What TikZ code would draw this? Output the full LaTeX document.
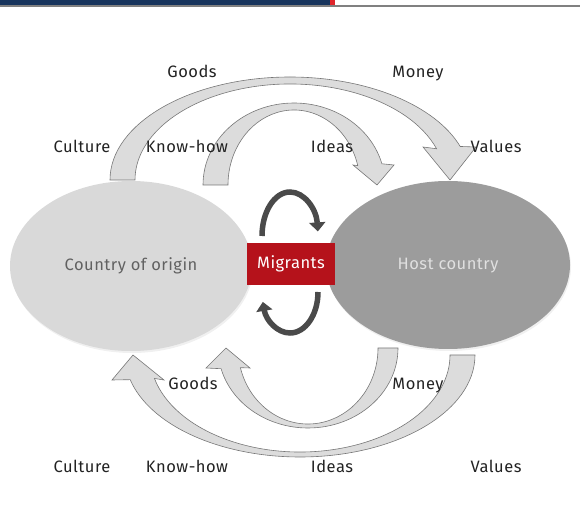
\documentclass[tikz,border=0pt]{standalone}
\usepackage{fontspec}
\setmainfont{Fira Sans}[LetterSpace=3]
\usepackage{tikz}
\usetikzlibrary{arrows.meta,shapes,shadows,calc}

\definecolor{navy}{HTML}{17345C}
\definecolor{barred}{HTML}{E0252B}
\definecolor{migred}{HTML}{B5121B}
\definecolor{origin}{HTML}{D9D9D9}
\definecolor{host}{HTML}{9C9C9C}
\definecolor{flowfill}{HTML}{DCDCDC}
\definecolor{flowline}{HTML}{777777}
\definecolor{swap}{HTML}{4A4A4A}
\definecolor{labeltext}{HTML}{222222}

\begin{document}
\begin{tikzpicture}[x=1pt,y=1pt,
    label node/.style={font=\fontsize{16.5}{19}\selectfont,text=labeltext,inner sep=0pt,
                       text height=12pt,text depth=3pt},
    country/.style={ellipse,inner sep=0pt,font=\fontsize{16.5}{19}\selectfont,
                    text height=12pt,text depth=3pt,
                    drop shadow={opacity=0.12,shadow xshift=1pt,shadow yshift=-2pt}},
    flow/.style={fill=flowfill,draw=flowline,line width=0.6pt,line join=miter},
    swap arrow/.style={draw=swap,line width=5.5pt,-{Triangle[length=9pt,width=16pt]}}]
  \useasboundingbox (0,0) rectangle (580,519);

  % header bar
  \fill[navy] (0,519) rectangle (330,514);
  \fill[barred] (330,519) rectangle (335,514);
  \fill[gray] (0,514) rectangle (580,512);

  % flows from origin to host (top)
  \draw[flow] (110,339) arc[start angle=180,end angle=19,x radius=180pt,y radius=103pt]
    -- (476,372) -- (450,339) -- (423,372)
    -- ({290+155*cos(19)},{339+96*sin(19)})
    arc[start angle=19,end angle=180,x radius=155pt,y radius=96pt] -- cycle;
  \draw[flow] (203,334) arc[start angle=180,end angle=15,x radius=91pt,y radius=82pt]
    -- (394,354) -- (377,334) -- (353,354)
    -- ({294+66*cos(15)},{334+75*sin(15)})
    arc[start angle=15,end angle=180,x radius=66pt,y radius=75pt] -- cycle;

  % flows from host back to origin (bottom)
  \draw[flow] (475,164) arc[start angle=0,end angle=-166,x radius=175pt,y radius=102pt]
    -- (112,139) -- (133,164) -- (164,139)
    -- ({300+150*cos(-166)},{164+97*sin(-166)})
    arc[start angle=-166,end angle=0,x radius=150pt,y radius=97pt] -- cycle;
  \draw[flow] (398,171) arc[start angle=0,end angle=-165,x radius=90pt,y radius=80pt]
    -- (206,151) -- (226,171) -- (250,151)
    -- ({308+70*cos(-165)},{171+76*sin(-165)})
    arc[start angle=-165,end angle=0,x radius=70pt,y radius=76pt] -- cycle;

  % countries and migrants
  \node[country,fill=origin,minimum width=242pt,minimum height=170pt,text=black!62]
    (origin) at (131,253) {Country of origin};
  \node[country,fill=host,minimum width=244pt,minimum height=168pt,text=black!12]
    (host) at (448,254) {Host country};
  \node[fill=migred,text=white,minimum width=88pt,minimum height=42pt,inner sep=0pt,
    text height=12pt,text depth=3pt,
    font=\fontsize{16.5}{19}\selectfont] (migrants) at (291,255) {Migrants};

  % circulation around the migrants
  \draw[swap arrow] (262,283) arc[start angle=180,end angle=6,x radius=28pt,y radius=44pt];
  \draw[swap arrow] (318,227) arc[start angle=0,end angle=-166,x radius=28pt,y radius=41pt];

  % labels
  \node[label node] (goods1) at (192,445.5) {Goods};
  \node[label node] (money1) at (418,445.5) {Money};
  \node[label node] (culture1) at (82,370.5) {Culture};
  \node[label node] (knowhow1) at (187,370.5) {Know-how};
  \node[label node] (ideas1) at (332,370.5) {Ideas};
  \node[label node] (values1) at (496,370.5) {Values};

  \node[label node] (goods2) at (193,133.5) {Goods};
  \node[label node] (money2) at (418,133.5) {Money};
  \node[label node] (culture2) at (82,51.5) {Culture};
  \node[label node] (knowhow2) at (187,51.5) {Know-how};
  \node[label node] (ideas2) at (332,51.5) {Ideas};
  \node[label node] (values2) at (496,51.5) {Values};
\end{tikzpicture}
\end{document}
